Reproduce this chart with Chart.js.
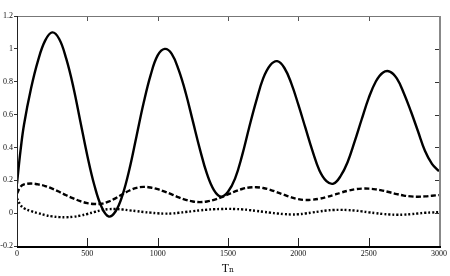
<!DOCTYPE html>
<html>
<head>
<meta charset="utf-8">
<script src="https://cdn.jsdelivr.net/npm/chart.js@4/dist/chart.umd.min.js"></script>
<style>
html,body{margin:0;padding:0;background:#fff;}
#wrap{width:450px;height:276px;position:relative;}
</style>
</head>
<body>
<div id="wrap"><canvas id="c" width="450" height="276"></canvas></div>
<script>
const xValues = [0,25,50,100,150,200,250,300,350,400,450,500,550,600,650,700,750,800,850,900,950,1000,1050,1100,1150,1200,1250,1300,1350,1400,1450,1500,1550,1600,1650,1700,1750,1800,1850,1900,1950,2000,2050,2100,2150,2200,2250,2300,2350,2400,2450,2500,2550,2600,2650,2700,2750,2800,2850,2900,2950,3000];
const solidSeries = [0.18,0.38,0.54,0.76,0.93,1.05,1.10,1.06,0.94,0.77,0.56,0.35,0.17,0.04,-0.02,0.01,0.11,0.27,0.47,0.67,0.84,0.96,1.00,0.97,0.87,0.73,0.56,0.39,0.24,0.14,0.10,0.13,0.21,0.35,0.52,0.68,0.82,0.90,0.925,0.885,0.79,0.66,0.52,0.38,0.26,0.195,0.18,0.225,0.31,0.435,0.57,0.70,0.80,0.855,0.862,0.82,0.73,0.62,0.50,0.38,0.30,0.255];
const dashedSeries = [0.12,0.16,0.175,0.18,0.175,0.165,0.149,0.13,0.109,0.09,0.073,0.061,0.056,0.057,0.07,0.09,0.115,0.138,0.154,0.16,0.156,0.146,0.131,0.114,0.096,0.081,0.071,0.067,0.071,0.081,0.096,0.114,0.132,0.147,0.156,0.158,0.153,0.142,0.127,0.111,0.096,0.085,0.08,0.082,0.088,0.098,0.11,0.124,0.136,0.145,0.149,0.149,0.145,0.137,0.127,0.116,0.107,0.102,0.10,0.102,0.106,0.11];
const dottedSeries = [0.09,0.05,0.03,0.012,0.0,-0.012,-0.02,-0.024,-0.025,-0.022,-0.015,-0.005,0.007,0.018,0.024,0.025,0.022,0.017,0.012,0.007,0.003,-0.001,-0.003,-0.002,0.002,0.007,0.012,0.017,0.021,0.024,0.025,0.026,0.025,0.023,0.019,0.014,0.008,0.003,-0.002,-0.006,-0.008,-0.007,-0.002,0.004,0.010,0.016,0.019,0.020,0.019,0.016,0.011,0.005,0.0,-0.005,-0.008,-0.010,-0.009,-0.006,-0.002,0.002,0.004,0.006];
const xTicks = [0,500,1000,1500,2000,2500,3000];
const yTicks = [-0.2,0,0.2,0.4,0.6,0.8,1,1.2];
const xTitle = 'T\u2099';

const pts = arr => xValues.map((x,i)=>({x:x,y:arr[i]}));
const tickFont = {family:"'Liberation Serif','DejaVu Serif',serif", size:8};

const framePlugin = {
  id:'frame',
  afterDraw(chart){
    const {ctx, chartArea:a, scales:{x,y}} = chart;
    ctx.save();
    ctx.strokeStyle = '#222'; ctx.lineWidth = 1;
    xTicks.forEach(v=>{
      const px = Math.round(x.getPixelForValue(v))+0.5;
      if (v>0 && v<3000){
        ctx.strokeStyle='#222';
        ctx.beginPath(); ctx.moveTo(px,a.bottom); ctx.lineTo(px,a.bottom-8); ctx.stroke();
        ctx.strokeStyle='#555';
        ctx.beginPath(); ctx.moveTo(px,a.top); ctx.lineTo(px,a.top+5); ctx.stroke();
      }
    });
    ctx.strokeStyle='#333';
    yTicks.forEach(v=>{
      const py = Math.round(y.getPixelForValue(v))+0.5;
      ctx.beginPath(); ctx.moveTo(a.right,py); ctx.lineTo(a.right-4,py); ctx.stroke();
    });
    ctx.strokeStyle='#777'; ctx.lineWidth=1;
    ctx.beginPath(); ctx.moveTo(a.left,a.top+0.5); ctx.lineTo(a.right,a.top+0.5); ctx.stroke();
    ctx.strokeStyle='#888'; ctx.lineWidth=2;
    ctx.beginPath(); ctx.moveTo(a.right+1,a.top); ctx.lineTo(a.right+1,a.bottom); ctx.stroke();
    ctx.strokeStyle='#222'; ctx.lineWidth=1;
    ctx.beginPath(); ctx.moveTo(a.left+0.5,a.top); ctx.lineTo(a.left+0.5,a.bottom); ctx.stroke();
    ctx.strokeStyle='#000'; ctx.lineWidth=2;
    ctx.beginPath(); ctx.moveTo(a.left,a.bottom+1); ctx.lineTo(a.right+2,a.bottom+1); ctx.stroke();
    ctx.restore();
  }
};

new Chart(document.getElementById('c'), {
  type:'line',
  data:{datasets:[
    {data:pts(solidSeries), borderColor:'#000', borderWidth:2.4, pointRadius:0, tension:0.4, fill:false},
    {data:pts(dashedSeries), borderColor:'#000', borderWidth:2.4, borderDash:[5,2.5], pointRadius:0, tension:0.4, fill:false},
    {data:pts(dottedSeries), borderColor:'#000', borderWidth:2.4, borderDash:[2,2], pointRadius:0, tension:0.4, fill:false}
  ]},
  options:{
    responsive:false, animation:false,
    layout:{padding:{top:16,right:10,left:0,bottom:0}},
    plugins:{legend:{display:false}, tooltip:{enabled:false}},
    scales:{
      x:{type:'linear', min:0, max:3000,
        afterBuildTicks(s){ s.ticks = xTicks.map(v=>({value:v})); },
        afterFit(s){ s.height = 30; },
        grid:{display:false, drawTicks:false}, border:{display:false},
        ticks:{font:tickFont, color:'#111', padding:3, maxRotation:0, callback:v=>String(v)},
        title:{display:true, text:xTitle, font:{family:"'Liberation Serif','DejaVu Serif',serif", size:12}, color:'#111', padding:{top:2,bottom:0}}
      },
      y:{type:'linear', min:-0.2, max:1.2,
        afterBuildTicks(s){ s.ticks = yTicks.map(v=>({value:v})); },
        afterFit(s){ s.width = 17; },
        grid:{drawOnChartArea:false, drawTicks:true, tickLength:3, color:'#333'}, border:{display:false},
        ticks:{font:tickFont, color:'#111', padding:1, callback:v=>String(Math.round(v*10)/10)}
      }
    }
  },
  plugins:[framePlugin]
});
</script>
</body>
</html>
